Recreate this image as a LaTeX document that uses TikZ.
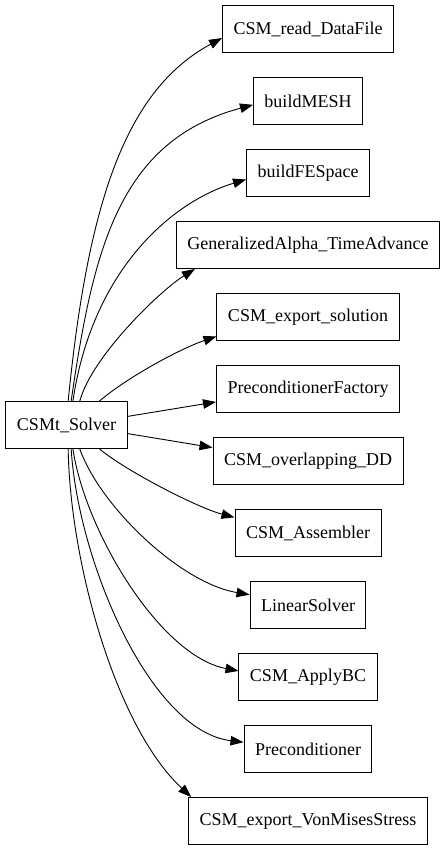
\documentclass[tikz,border=0pt]{standalone}
\usepackage{fontspec}
\setmainfont{Liberation Serif}
\usetikzlibrary{arrows.meta}
\begin{document}
\begin{tikzpicture}[x=1pt,y=1pt,
    fn/.style={draw, line width=1pt, minimum height=47pt, inner xsep=11pt,
      font=\fontsize{18}{20}\selectfont},
    call/.style={-{Triangle[length=13pt,width=9.5pt]}, line width=0.9pt}]
  \useasboundingbox (0,0) rectangle (447,851);

  % Chiamante
  \node[fn] (solver) at (66.5,426) {CSMt\_Solver};

  % Funzioni chiamate, dall'alto in basso
  \foreach \n/\t [count=\i from 0] in {readdata/CSM\_read\_DataFile, mesh/buildMESH,
      fespace/buildFESpace, galpha/GeneralizedAlpha\_TimeAdvance,
      exportsol/CSM\_export\_solution, pcfactory/PreconditionerFactory,
      overlapdd/CSM\_overlapping\_DD, assembler/CSM\_Assembler,
      linsolver/LinearSolver, applybc/CSM\_ApplyBC, precond/Preconditioner,
      vonmises/CSM\_export\_VonMisesStress}
    \node[fn] (\n) at (308,822-72*\i) {\t};

  % Chiamate verso l'alto
  \draw[call] (solver.86) .. controls (88,650) and (126,761) .. (readdata.186);
  \draw[call] (solver.79) .. controls (93,600) and (118,710) .. (mesh.184);
  \draw[call] (solver.75) .. controls (92,580) and (171,649) .. (fespace.186);
  \draw[call] (solver.61) .. controls (92,495) and (161,561) .. ([xshift=19pt]galpha.south west);
  \draw[call] (solver.36) .. controls (129,475) and (182,503) .. (exportsol.192);

  % Chiamate dirette
  \draw[call] (solver.8) -- (pcfactory.188);
  \draw[call] (solver.352) -- (overlapdd.172);

  % Chiamate verso il basso
  \draw[call] (solver.324) .. controls (126,380) and (198,343) .. (assembler.168);
  \draw[call] (solver.299) .. controls (100,345) and (180,268) .. (linsolver.170);
  \draw[call] (solver.285) .. controls (85,320) and (160,195) .. (applybc.175);
  \draw[call] (solver.281) .. controls (78,290) and (150,120) .. (precond.174);
  \draw[call] (solver.274) .. controls (70,290) and (115,125) .. ([xshift=3pt]vonmises.north west);
\end{tikzpicture}
\end{document}
